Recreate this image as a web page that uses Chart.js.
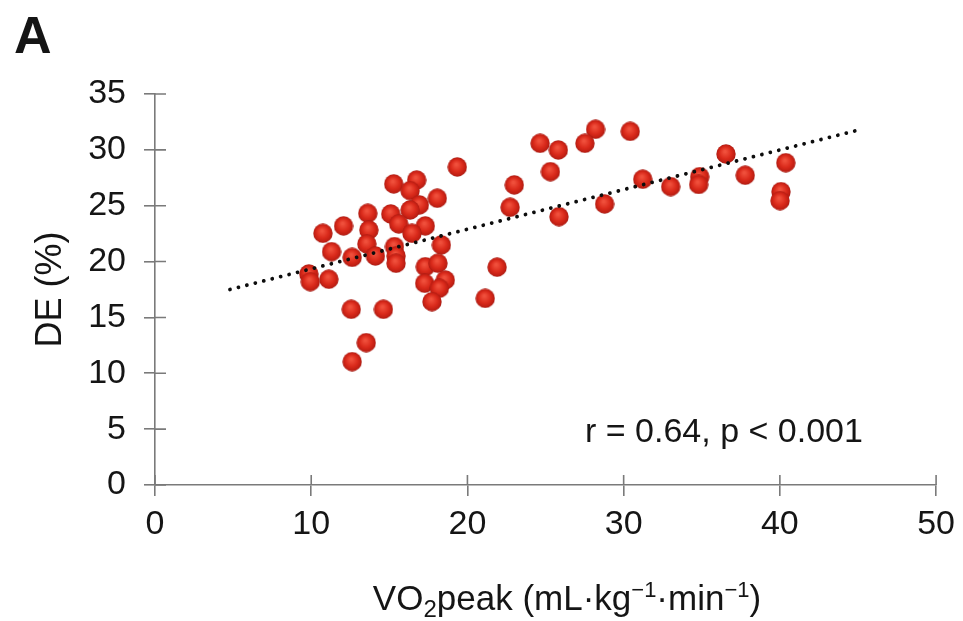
<!DOCTYPE html>
<html>
<head>
<meta charset="UTF-8">
<title>DE vs VO2peak</title>
<script src="https://cdn.jsdelivr.net/npm/chart.js"></script>
<style>
  html, body { margin: 0; padding: 0; background: #fff; }
  #wrap { width: 963px; height: 621px; }
</style>
</head>
<body>
<div id="wrap"><canvas id="chart" width="963" height="621"></canvas></div>
<script>
  // values
  const vo2peak = [
    19.35, 15.28, 16.75, 16.33, 18.07, 16.92, 16.33, 13.62, 15.09, 15.6,
    17.3, 12.07, 10.75, 13.69, 16.45, 13.56, 11.3, 18.33, 15.33, 12.62,
    14.11, 15.43, 15.43, 17.3, 18.11, 9.85, 9.94, 11.13, 17.26, 18.58,
    18.2, 17.73, 12.56, 14.62, 13.52, 12.62, 21.14, 21.9,
    24.65, 25.82, 28.2, 27.52, 30.42, 25.31, 23.0, 22.73, 25.86, 28.78,
    31.22, 33.01, 34.87, 34.8, 36.55, 37.78, 40.38, 40.07, 40.01
  ];
  const dePct = [
    28.47, 26.95, 27.3, 26.35, 25.67, 25.07, 24.62, 24.32, 24.26, 23.37,
    23.19, 23.19, 22.53, 22.83, 22.53, 21.58, 20.89, 21.49, 21.34, 20.38,
    20.5, 20.5, 19.85, 19.54, 19.85, 18.89, 18.2, 18.42, 18.06, 18.35,
    17.61, 16.41, 15.73, 15.73, 12.74, 11.04, 16.71, 19.5,
    30.59, 29.99, 31.84, 30.59, 31.66, 28.05, 26.86, 24.86, 24.02, 25.16,
    27.37, 26.71, 27.6, 26.9, 29.63, 27.73, 28.85, 26.26, 25.45
  ];
  const trendX = [4.8, 45.1];
  const trendY = [17.5, 31.8];
  const xRange = [0, 50];
  const yRange = [0, 35];
  const xStep = 10;
  const yStep = 5;
  const panelLabel = "A";
  const statsLabel = "r = 0.64, p < 0.001";
  const yTitle = "DE (%)";

  const FONT = "'Liberation Sans', Arial, Helvetica, sans-serif";
  const AXIS_GREY = "#7a7a7a";
  const TXT = "#151515";

  // shaded red ball used as point style
  function makeBall(r) {
    const c = document.createElement("canvas");
    c.width = c.height = r * 2;
    const g = c.getContext("2d");
    const grad = g.createRadialGradient(r * 0.9, r * 0.75, r * 0.1, r, r, r);
    grad.addColorStop(0, "#f0503c");
    grad.addColorStop(0.55, "#da2a1b");
    grad.addColorStop(0.88, "#bd1e13");
    grad.addColorStop(1, "#951610");
    g.fillStyle = grad;
    g.beginPath();
    g.arc(r, r, r - 0.3, 0, Math.PI * 2);
    g.fill();
    return c;
  }
  const ball = makeBall(10);

  // tick marks that cross the axis line (inner half)
  const crossTicks = {
    id: "crossTicks",
    afterDraw(chart) {
      const { ctx, scales: { x, y } } = chart;
      ctx.save();
      ctx.strokeStyle = AXIS_GREY;
      ctx.lineWidth = 1.6;
      ctx.beginPath();
      x.ticks.forEach(t => {
        const px = x.getPixelForValue(t.value);
        ctx.moveTo(px, y.bottom);
        ctx.lineTo(px, y.bottom - 10);
      });
      y.ticks.forEach(t => {
        const py = y.getPixelForValue(t.value);
        ctx.moveTo(x.left, py);
        ctx.lineTo(x.left + 11, py);
      });
      ctx.stroke();
      ctx.restore();
    }
  };

  // panel letter, stats note and x title with sub/superscripts
  const labels = {
    id: "labels",
    afterDraw(chart) {
      const { ctx } = chart;
      ctx.save();
      ctx.fillStyle = TXT;
      ctx.textBaseline = "alphabetic";
      ctx.textAlign = "left";

      ctx.font = "bold 52px " + FONT;
      ctx.fillText(panelLabel, 14, 53);

      ctx.font = "34px " + FONT;
      ctx.fillText(statsLabel, 585, 442);

      const parts = [
        { t: "VO", size: 35, dy: 0 },
        { t: "2", size: 24, dy: 7 },
        { t: "peak (mL·kg", size: 35, dy: 0 },
        { t: "\u22121", size: 22, dy: -13 },
        { t: "·min", size: 35, dy: 0 },
        { t: "\u22121", size: 22, dy: -13 },
        { t: ")", size: 35, dy: 0 }
      ];
      let total = 0;
      parts.forEach(p => {
        ctx.font = p.size + "px " + FONT;
        p.w = ctx.measureText(p.t).width;
        total += p.w;
      });
      let cx = 567 - total / 2;
      const base = 610;
      parts.forEach(p => {
        ctx.font = p.size + "px " + FONT;
        ctx.fillText(p.t, cx, base + p.dy);
        cx += p.w;
      });
      ctx.restore();
    }
  };

  const points = vo2peak.map((v, i) => ({ x: v, y: dePct[i] }));
  const trend = trendX.map((v, i) => ({ x: v, y: trendY[i] }));

  new Chart(document.getElementById("chart"), {
    type: "scatter",
    data: {
      datasets: [
        {
          type: "line",
          label: "fit",
          data: trend,
          borderColor: "#0d0d0d",
          borderWidth: 3.8,
          borderDash: [0.01, 8.7],
          borderCapStyle: "round",
          pointRadius: 0,
          fill: false,
          tension: 0
        },
        {
          label: "DE",
          data: points,
          pointStyle: ball,
          pointRadius: 10,
          pointHoverRadius: 10
        }
      ]
    },
    options: {
      responsive: false,
      animation: false,
      layout: { padding: { top: 94, right: 25, left: 0, bottom: 0 } },
      plugins: { legend: { display: false }, tooltip: { enabled: false } },
      scales: {
        x: {
          type: "linear",
          min: xRange[0],
          max: xRange[1],
          afterFit: s => { s.height = 136; },
          ticks: { stepSize: xStep, color: TXT, padding: 8, font: { family: FONT, size: 34 } },
          grid: { drawOnChartArea: false, drawTicks: true, tickLength: 11, color: AXIS_GREY, lineWidth: 1.6 },
          border: { display: true, color: AXIS_GREY, width: 1.6 }
        },
        y: {
          min: yRange[0],
          max: yRange[1],
          afterFit: s => { s.width = 155; },
          ticks: { stepSize: yStep, color: TXT, padding: 18, font: { family: FONT, size: 34 } },
          grid: { drawOnChartArea: false, drawTicks: true, tickLength: 11, color: AXIS_GREY, lineWidth: 1.6 },
          border: { display: true, color: AXIS_GREY, width: 1.6 },
          title: {
            display: true,
            text: yTitle,
            color: TXT,
            font: { family: FONT, size: 36 },
            padding: { top: 29, bottom: 0 }
          }
        }
      }
    },
    plugins: [crossTicks, labels]
  });
</script>
</body>
</html>
